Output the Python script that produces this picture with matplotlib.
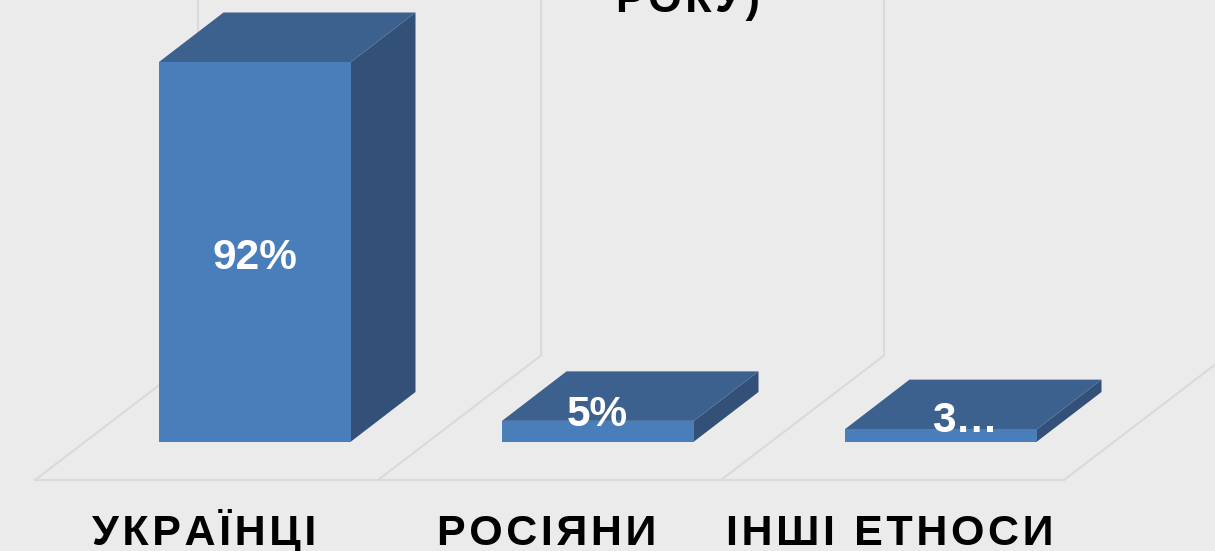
import matplotlib
matplotlib.use('Agg')
import matplotlib.pyplot as plt
from matplotlib.patches import Polygon

categories = ['УКРАЇНЦІ', 'РОСІЯНИ', 'ІНШІ ЕТНОСИ']
values = [92, 5, 3]
value_labels = ['92%', '5%', '3…']
title_tail = 'РОКУ)'

W, H = 1215, 551
UNIT_X = 343.0        # pixels per category
UNIT_Y = 379.5 / 92   # pixels per percent
X0, Y0 = 255, 441.5   # pixel position of first bar centre / zero line

BG = '#EBEBEB'
GRID = '#DADADA'
FRONT = '#4A7EBB'
TOP = '#3D618F'
SIDE = '#325078'


def spaced(s):
    # letter spacing of the original, done with hair spaces
    return '\u200a'.join(s)


plt.rcParams['font.family'] = ['Liberation Sans', 'DejaVu Sans']

fig = plt.figure(figsize=(W / 100, H / 100), dpi=100, facecolor=BG)
ax = fig.add_axes([0, 0, 1, 1])
ax.set_xlim(-X0 / UNIT_X, (W - X0) / UNIT_X)
ax.set_ylim(-(H - Y0) / UNIT_Y, Y0 / UNIT_Y)
ax.axis('off')

# floor and walls
floor_y = -38.5 / UNIT_Y
back_y = 86 / UNIT_Y
depth_floor = 163 / UNIT_X
n = len(categories)
left_edges = [-220 / UNIT_X + i for i in range(n + 1)]
ax.plot([left_edges[0], left_edges[-1] - 0.005], [floor_y, floor_y], color=GRID, lw=1.5, zorder=1)
for xl in left_edges:
    ax.plot([xl, xl + depth_floor, xl + depth_floor], [floor_y, back_y, 200],
            color=GRID, lw=1.5, zorder=1, solid_joinstyle='miter')

# 3d bars
width = 192 / UNIT_X
dx = 64.5 / UNIT_X
dy = 49.5 / UNIT_Y
for i, v in enumerate(values):
    l, r = i - width / 2, i + width / 2
    ax.add_patch(Polygon([(r, 0), (r + dx, dy), (r + dx, v + dy), (r, v)], fc=SIDE, ec='none', zorder=2))
    ax.add_patch(Polygon([(l, v), (r, v), (r + dx, v + dy), (l + dx, v + dy)], fc=TOP, ec='none', zorder=2))
    ax.add_patch(Polygon([(l, 0), (r, 0), (r, v), (l, v)], fc=FRONT, ec='none', zorder=3))

# value labels
label_y = [values[0] / 2 - 1.5, values[1] + 1.4, values[2] + 2.0]
label_x = [0, 0.998, 2.07]
for x, y, s in zip(label_x, label_y, value_labels):
    ax.text(x, y, s, color='white', fontsize=30.5, fontweight='bold', ha='center', va='center', zorder=5)

# category labels, shifted left of the bars as in the original
for i, c in enumerate(categories):
    ax.text(i - 51 / UNIT_X, -(545 - Y0) / UNIT_Y, spaced(c), color='black', fontsize=31, fontweight='bold',
            ha='center', va='baseline', zorder=5)

ax.text((688 - X0) / UNIT_X, (Y0 - 12) / UNIT_Y, spaced(title_tail), color='black', fontsize=31, fontweight='bold',
        ha='center', va='baseline', zorder=5)

fig.savefig('out.png', dpi=100, facecolor=BG)
